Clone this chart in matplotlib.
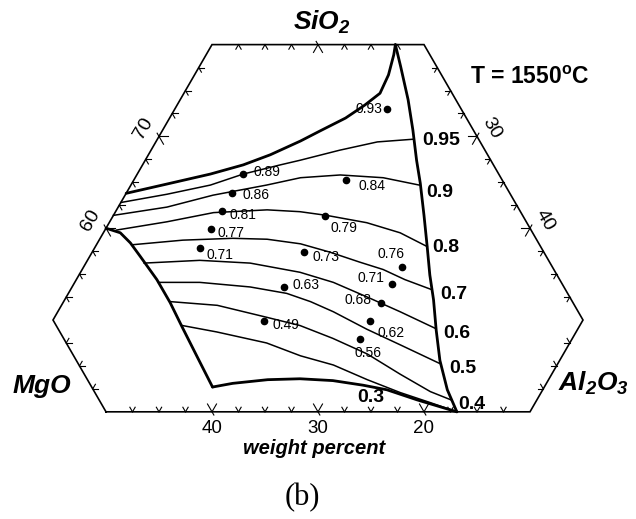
import matplotlib.pyplot as plt
import numpy as np

plt.rcParams["font.family"] = ["Liberation Sans", "DejaVu Sans"]
plt.rcParams["mathtext.default"] = "regular"

# compositions in wt%: (Al2O3, SiO2), MgO makes up the rest
# boundary of the liquid field
upper_al = [0, 3.3, 6.9, 9.5, 11.5, 13.6, 14.9, 16.6, 17.7, 18.5, 18.3, 17.7, 17.3]
upper_si = [63.8, 64.8, 65.9, 66.9, 68.0, 69.5, 70.6, 72.0, 73.4, 74.7, 76.7, 78.9, 80.0]

right_al = [17.3, 19.0, 21.5, 23.6, 25.6, 27.2, 29.3, 31.3, 33.1, 34.8, 36.7, 38.7, 41.0, 43.1]
right_si = [80.0, 77.6, 74.0, 70.7, 67.4, 64.9, 61.4, 58.0, 54.9, 52.2, 48.9, 45.6, 42.4, 40.0]

lower_al = [18.7, 20.4, 23.5, 26.5, 29.7, 32.8, 35.3, 38.7, 43.1]
lower_si = [42.7, 43.1, 43.5, 43.6, 43.4, 42.9, 42.4, 41.3, 40.0]

left_al = [0, 1.6, 3.1, 4.8, 7.6, 10.1, 12.6, 15.6, 18.7]
left_si = [60.0, 59.5, 58.4, 56.9, 54.4, 51.9, 49.2, 46.0, 42.7]

# iso-activity lines
iso_labels = ["0.95", "0.9", "0.8", "0.7", "0.6", "0.5", "0.4", "0.3"]
iso_al = [
    [0, 3.9, 7.5, 10.0, 13.0, 14.6, 17.8, 20.9, 24.2],
    [0, 4.6, 8.3, 12.8, 15.6, 19.2, 23.4, 27.2],
    [1.1, 5.4, 9.3, 14.2, 17.4, 20.1, 24.3, 28.0, 31.3],
    [3.4, 7.9, 12.5, 15.8, 19.2, 22.4, 25.8, 28.4, 31.0, 34.1],
    [5.5, 10.6, 15.5, 20.7, 24.4, 28.4, 32.3, 36.5],
    [7.9, 11.8, 16.8, 20.6, 23.3, 26.0, 30.1, 34.1, 39.0],
    [10.1, 14.7, 20.0, 23.6, 27.4, 31.5, 35.7, 39.5, 41.9],
    [12.5, 16.1, 21.4, 25.3, 28.9, 32.9, 36.7, 40.1, 43.1],
]
iso_si = [
    [62.8, 63.7, 64.7, 65.9, 66.9, 67.4, 68.5, 69.4, 69.7],
    [61.4, 62.3, 63.6, 64.7, 65.5, 65.8, 65.5, 64.7],
    [59.8, 60.7, 61.7, 62.0, 61.8, 61.4, 60.6, 59.5, 58.0],
    [58.2, 58.7, 58.9, 58.8, 58.3, 57.4, 56.3, 55.5, 54.4, 53.3],
    [56.2, 56.5, 56.2, 55.2, 54.1, 52.5, 50.9, 49.1],
    [54.1, 54.1, 53.6, 52.9, 52.0, 50.9, 49.0, 47.3, 45.2],
    [52.0, 51.6, 50.3, 49.4, 48.0, 46.3, 44.1, 42.2, 41.3],
    [49.4, 48.7, 47.5, 46.1, 45.1, 43.5, 42.1, 41.0, 40.0],
]
iso_offsets = [(8, -1), (7, -7), (5, -1), (8, -5), (8, -5), (8, -4), (7, -5), (-100, 14)]

# measured melts
dot_al = [20, 10, 10, 10, 10, 10, 20, 20, 20, 20, 20, 30, 30, 30, 30, 30]
dot_si = [73.0, 65.9, 63.8, 61.9, 59.9, 57.8, 65.3, 61.3, 57.4, 53.6, 49.9,
          55.8, 53.9, 51.9, 49.9, 47.9]
dot_text = ["0.93", "0.89", "0.86", "0.81", "0.77", "0.71", "0.84", "0.79", "0.73",
            "0.63", "0.49", "0.76", "0.71", "0.68", "0.62", "0.56"]
dot_offsets = [(-5, 0, "right"), (10, 2, "left"), (10, -2, "left"), (7, -4, "left"),
               (6, -4, "left"), (6, -7, "left"), (12, -6, "left"), (6, -12, "left"),
               (8, -5, "left"), (8, 2, "left"), (8, -4, "left"), (-11, 13, "center"),
               (-7, 6, "right"), (-10, 3, "right"), (7, -12, "left"), (-5, -14, "left")]

# window of the diagram: SiO2 40-80, MgO 0-50, Al2O3 0-50
frame_al = [10, 0, 0, 20, 50, 50, 10]
frame_si = [40, 50, 80, 80, 50, 40, 40]

sio2_ticks = [60, 70]
al2o3_ticks = [30, 40]
mgo_ticks = [40, 30, 20]


def tern(al, si):
    al = np.asarray(al, dtype=float)
    si = np.asarray(si, dtype=float)
    return al + si / 2, si * np.sqrt(3) / 2


fig = plt.figure(figsize=(6.36, 5.19), dpi=100)
ax = fig.add_axes([0, 0, 1, 1])
ax.set_xlim(20, 80)
ax.set_ylim(24.53, 73.49)
ax.axis("off")

# frame
fx, fy = tern(frame_al, frame_si)
ax.plot(fx, fy, color="black", lw=1.2, solid_joinstyle="miter")

# ticks every 2.5 wt%, pointing inward along the two other grid directions
cx, cy = fx[:-1].mean(), fy[:-1].mean()
dirs = {"si": np.array([1.0, 0.0]),
        "al": np.array([0.5, np.sqrt(3) / 2]),
        "mg": np.array([-0.5, np.sqrt(3) / 2])}
for i in range(len(frame_al) - 1):
    a0, s0 = frame_al[i], frame_si[i]
    a1, s1 = frame_al[i + 1], frame_si[i + 1]
    m0, m1 = 100 - a0 - s0, 100 - a1 - s1
    if s0 == s1:
        use = ["al", "mg"]
    elif a0 == a1:
        use = ["si", "mg"]
    else:
        use = ["si", "al"]
    n = int(round(max(abs(a1 - a0), abs(s1 - s0), abs(m1 - m0)) / 2.5))
    for k in range(1, n):
        a = a0 + (a1 - a0) * k / n
        s = s0 + (s1 - s0) * k / n
        px, py = tern(a, s)
        major = (a % 10 == 0) and (s % 10 == 0)
        length = 0.85 if major else 0.5
        for j, key in enumerate(use):
            d = dirs[key]
            if (cx - px) * d[0] + (cy - py) * d[1] < 0:
                d = -d
            back = 0.35 if (major and j == 1) else 0.0
            ax.plot([px - d[0] * back, px + d[0] * length],
                    [py - d[1] * back, py + d[1] * length],
                    color="black", lw=0.8)

# axis numbers
for v in sio2_ticks:
    px, py = tern(0, v)
    ax.annotate(str(v), (px, py), xytext=(-15, 8), textcoords="offset pixels",
                ha="center", va="center", rotation=60, fontsize=14)
for v in al2o3_ticks:
    px, py = tern(v, 100 - v)
    ax.annotate(str(v), (px, py), xytext=(15, 8), textcoords="offset pixels",
                ha="center", va="center", rotation=-60, fontsize=14)
for v in mgo_ticks:
    px, py = tern(100 - 40 - v, 40)
    ax.annotate(str(v), (px, py), xytext=(0, -17), textcoords="offset pixels",
                ha="center", va="center", fontsize=13.5)

# liquid field boundary
for al, si in [(upper_al, upper_si), (right_al, right_si),
               (lower_al, lower_si), (left_al, left_si)]:
    x, y = tern(al, si)
    ax.plot(x, y, color="black", lw=2.0, solid_capstyle="round",
            solid_joinstyle="round")

# iso lines and their values
for al, si, lab, off in zip(iso_al, iso_si, iso_labels, iso_offsets):
    x, y = tern(al, si)
    ax.plot(x, y, color="black", lw=1.1, solid_joinstyle="round")
    ax.annotate(lab, (x[-1], y[-1]), xytext=off, textcoords="offset pixels",
                ha="left", va="center", fontsize=14, fontweight="bold")

# data points
x, y = tern(dot_al, dot_si)
ax.plot(x, y, "o", color="black", ms=4.5)
for xi, yi, t, (dx, dy, ha) in zip(x, y, dot_text, dot_offsets):
    ax.annotate(t, (xi, yi), xytext=(dx, dy), textcoords="offset pixels",
                ha=ha, va="center", fontsize=10)

# component names and annotations
W, H = 636, 519
fig.text(322 / W, 1 - 22 / H, "SiO$_2$", ha="center", va="center",
         fontsize=19, fontweight="bold", style="italic")
fig.text(13 / W, 1 - 386 / H, "MgO", ha="left", va="center",
         fontsize=19, fontweight="bold", style="italic")
fig.text(558 / W, 1 - 383 / H, "Al$_2$O$_3$", ha="left", va="center",
         fontsize=19, fontweight="bold", style="italic")
fig.text(470 / W, 1 - 77 / H, "T = 1550$^o$C", ha="left", va="center",
         fontsize=16.5, fontweight="bold")
fig.text(314 / W, 1 - 449 / H, "weight percent", ha="center", va="center",
         fontsize=14.5, fontweight="bold", style="italic")
fig.text(302 / W, 1 - 498 / H, "(b)", ha="center", va="center",
         fontsize=22, family="Liberation Serif")

fig.savefig("out.png", dpi=100)
